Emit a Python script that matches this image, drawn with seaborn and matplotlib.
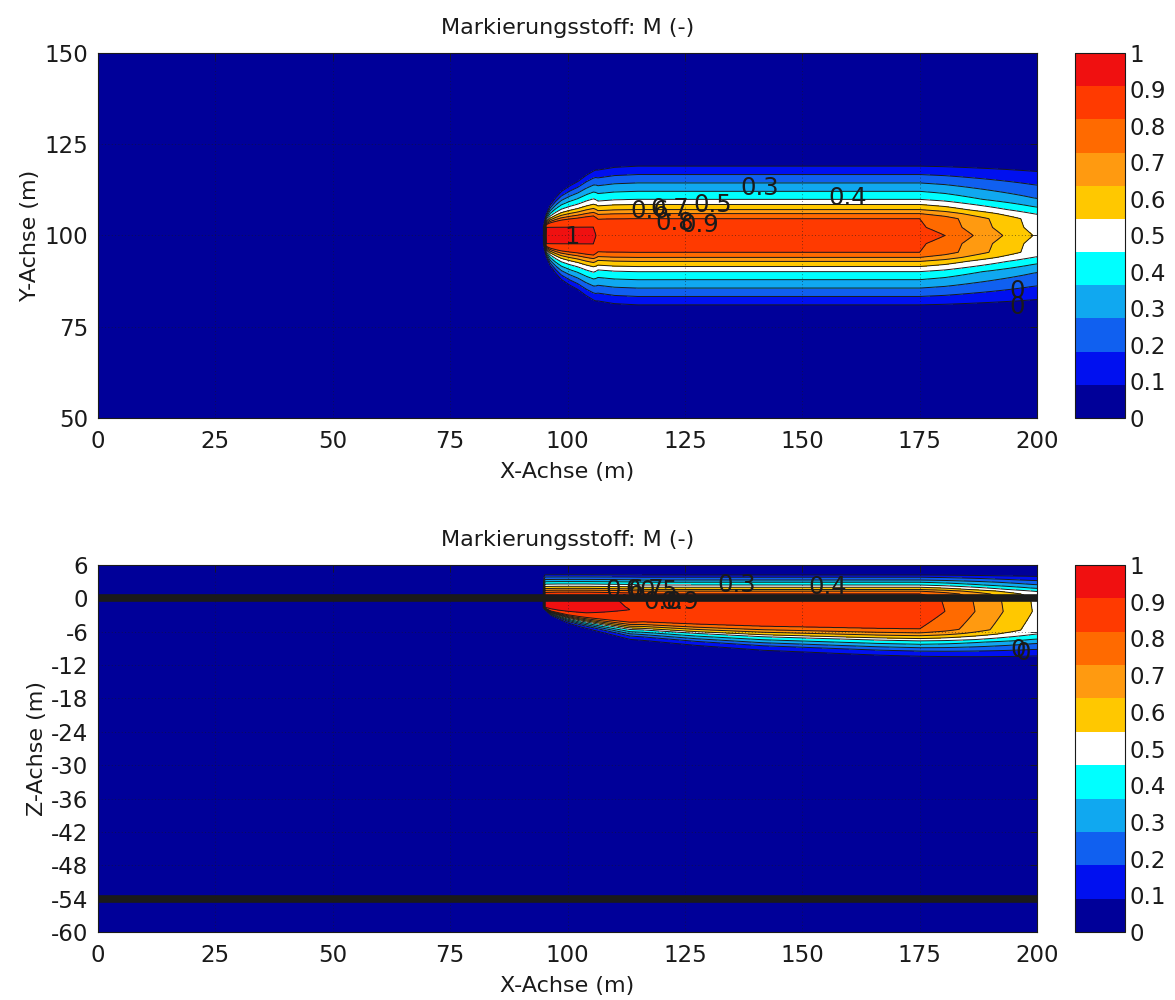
import numpy as np
import matplotlib
matplotlib.use("Agg")
import matplotlib.pyplot as plt
import seaborn as sns
from matplotlib.colors import ListedColormap, Normalize
from matplotlib.cm import ScalarMappable

# ---------------- data ----------------
# colour bands (0-0.1, 0.1-0.2, ..., 0.9-1.0, >=1.0)
band_colors = ['#000099', '#0010F0', '#1060F0', '#10A8F0', '#00FFFF', '#FFFFFF',
               '#FFC800', '#FF9A10', '#FF6A00', '#FF3A00', '#F01010']
contour_levels = [0.0, 0.1, 0.2, 0.3, 0.4, 0.5, 0.6, 0.7, 0.8, 0.9, 1.0, 1.2]
cbar_ticks = [0, 0.1, 0.2, 0.3, 0.4, 0.5, 0.6, 0.7, 0.8, 0.9, 1.0]

# top panel: X-Y plane
xy_x_centre = [94.8, 95.5, 100.0, 105.5, 106.5, 125.0, 150.0, 175.0, 180.4, 186.4, 192.7, 199.1, 200.0]
xy_centre_val = [0.0, 1.05, 1.05, 1.05, 0.962, 0.96, 0.96, 0.96, 0.90, 0.80, 0.70, 0.60, 0.59]
xy_x_spread = [94.8, 95.0, 95.5, 96.3, 97.5, 98.7, 100.5, 102.2, 104.0, 106.0, 110.0, 115.0, 200.0]
xy_spread = [0.05, 0.10, 0.22, 0.36, 0.48, 0.58, 0.67, 0.74, 0.84, 0.93, 0.98, 1.00, 1.00]
xy_core_halfwidth = 2.2
lat_dist = [0.0, 2.2, 4.6, 6.0, 7.1, 8.5, 9.9, 12.1, 14.4, 16.7, 19.0, 21.5, 60.0]
lat_val = [0.96, 0.915, 0.90, 0.80, 0.70, 0.60, 0.50, 0.40, 0.30, 0.20, 0.10, 0.0, 0.0]
plume_axis_y = 100.0

# bottom panel: X-Z plane
xz_x_centre = [94.8, 95.2, 98.0, 104.0, 110.0, 113.3, 116.0, 150.0, 175.0, 180.4, 186.8, 192.8, 199.0, 200.0]
xz_centre_val = [0.0, 1.02, 1.035, 1.035, 1.012, 1.0, 0.962, 0.96, 0.96, 0.90, 0.80, 0.70, 0.60, 0.59]
xz_x_spread = [94.8, 95.2, 96.5, 100.0, 102.7, 113.3, 127.5, 141.7, 166.0, 200.0]
xz_spread = [0.03, 0.06, 0.18, 0.33, 0.41, 0.67, 0.80, 0.90, 1.00, 1.09]
xz_core_depth = -1.5
vert_z = [6.0, 4.6, 4.2, 3.8, 3.3, 2.9, 2.4, 2.0, 1.6, 1.3, 0.8, 0.0, -2.3, -5.4, -6.1,
          -6.6, -7.1, -7.5, -8.1, -8.7, -9.3, -10.2, -12.0, -60.0]
vert_val = [0.0, 0.05, 0.1, 0.2, 0.3, 0.4, 0.5, 0.6, 0.7, 0.8, 0.9, 0.95, 0.96, 0.9, 0.8,
            0.7, 0.6, 0.5, 0.4, 0.3, 0.2, 0.1, 0.0, 0.0]
layer_bounds = [0, -54]

# contour label texts and where they sit
top_labels = ['0.3', '0.4', '0.5', '0.6', '0.7', '0.8', '0.9', '1', '0', '0']
top_label_pos = [(141, 113.1), (159.7, 110.3), (131, 108.4), (117.6, 106.8), (121.8, 107.3),
                 (122.9, 103.4), (128.2, 102.8), (101, 99.6), (195.7, 84.7), (195.7, 80.3)]
bot_labels = ['0.3', '0.4', '0.6', '0.7', '0.5', '0.8', '0.9', '0', '0']
bot_label_pos = [(136.1, 2.4), (155.5, 2.0), (112.2, 1.5), (116.5, 1.5), (119.5, 1.3),
                 (120.3, -0.7), (124.0, -0.7), (196.0, -9.3), (197.0, -9.8)]

title = 'Markierungsstoff: M (-)'
xlabel = 'X-Achse (m)'
ylabel_top = 'Y-Achse (m)'
ylabel_bot = 'Z-Achse (m)'
xticks = [0, 25, 50, 75, 100, 125, 150, 175, 200]
yticks_top = [50, 75, 100, 125, 150]
yticks_bot = [6, 0, -6, -12, -18, -24, -30, -36, -42, -48, -54, -60]

# ---------------- style ----------------
sns.set_theme(style="white")
plt.rcParams['font.family'] = ['DejaVu Sans']
plt.rcParams['axes.unicode_minus'] = False
plt.rcParams['text.color'] = 'k'
plt.rcParams['axes.labelcolor'] = 'k'
plt.rcParams['xtick.color'] = 'k'
plt.rcParams['ytick.color'] = 'k'

cmap = ListedColormap(sns.color_palette(band_colors, n_colors=len(band_colors)))

# ---------------- fields ----------------
xg = np.linspace(0, 200, 1601)
yg = np.linspace(50, 150, 1001)
zg = np.linspace(-60, 6, 1321)

A_xy = np.interp(xg, xy_x_centre, xy_centre_val, left=0.0)
W_xy = np.interp(xg, xy_x_spread, xy_spread, left=0.01)
X, Y = np.meshgrid(xg, yg)
dist = np.abs(Y - plume_axis_y)
D = np.where(dist <= xy_core_halfwidth, dist,
             xy_core_halfwidth + (dist - xy_core_halfwidth) / W_xy[None, :])
P = np.interp(D, lat_dist, lat_val) / lat_val[0]
C_xy = A_xy[None, :] * P

A_xz = np.interp(xg, xz_x_centre, xz_centre_val, left=0.0)
W_xz = np.interp(xg, xz_x_spread, xz_spread, left=0.01)
X2, Z = np.meshgrid(xg, zg)
Zeff = np.where(Z >= xz_core_depth, Z, xz_core_depth + (Z - xz_core_depth) / W_xz[None, :])
vz = np.array(vert_z[::-1]); vv = np.array(vert_val[::-1])
Q = np.interp(Zeff, vz, vv) / max(vert_val)
C_xz = A_xz[None, :] * Q

# ---------------- figure ----------------
fig = plt.figure(figsize=(11.75, 10), dpi=100)
ax1 = fig.add_axes([98/1175, 1-418/1000, 939/1175, 365/1000])
ax2 = fig.add_axes([98/1175, 1-932/1000, 939/1175, 367/1000])
cax1 = fig.add_axes([1075/1175, 1-418/1000, 50/1175, 365/1000])
cax2 = fig.add_axes([1075/1175, 1-932/1000, 50/1175, 367/1000])

tick_fs = 16.5
lab_fs = 16
clab_fs = 17.5

def draw(ax, Xm, Ym, C, labels, positions):
    ax.contourf(Xm, Ym, C, levels=contour_levels, colors=band_colors, extend='neither')
    ax.contour(Xm, Ym, C, levels=contour_levels[1:-1], colors='k', linewidths=0.7)
    for t, (px, py) in zip(labels, positions):
        ax.text(px, py, t, fontsize=clab_fs, color='k', ha='center', va='center', clip_on=True)
    ax.set_xlim(0, 200)
    ax.set_xticks(xticks)
    ax.grid(True, linestyle=(0, (1, 3)), color='k', linewidth=0.6, alpha=0.7)
    ax.set_axisbelow(False)
    ax.tick_params(direction='in', top=True, right=True, length=5, width=0.6,
                   labelsize=tick_fs, pad=9, colors='k')
    for s in ax.spines.values():
        s.set_color('k'); s.set_linewidth(0.8)
    ax.set_title(title, fontsize=lab_fs, pad=14)
    ax.set_xlabel(xlabel, fontsize=lab_fs, labelpad=6)

draw(ax1, X, Y, C_xy, top_labels, top_label_pos)
ax1.set_ylim(50, 150)
ax1.set_yticks(yticks_top)
ax1.set_ylabel(ylabel_top, fontsize=lab_fs, labelpad=3)

draw(ax2, X2, Z, C_xz, bot_labels, bot_label_pos)
for zb in layer_bounds:
    ax2.axhline(zb, color='k', linewidth=5.5)
ax2.set_ylim(-60, 6)
ax2.set_yticks(yticks_bot)
ax2.set_ylabel(ylabel_bot, fontsize=lab_fs, labelpad=3)
ax1.tick_params(axis='y', pad=7)
ax2.tick_params(axis='y', pad=7)

for cax in (cax1, cax2):
    sm = ScalarMappable(norm=Normalize(0, 1), cmap=cmap)
    cb = fig.colorbar(sm, cax=cax, ticks=cbar_ticks)
    cb.ax.set_yticklabels(['%g' % t for t in cbar_ticks])
    cb.outline.set_edgecolor('k'); cb.outline.set_linewidth(0.8)
    cax.tick_params(direction='in', left=True, right=True, length=5, width=0.6,
                    labelsize=tick_fs, pad=3, colors='k')

fig.savefig('out.png', dpi=100)
